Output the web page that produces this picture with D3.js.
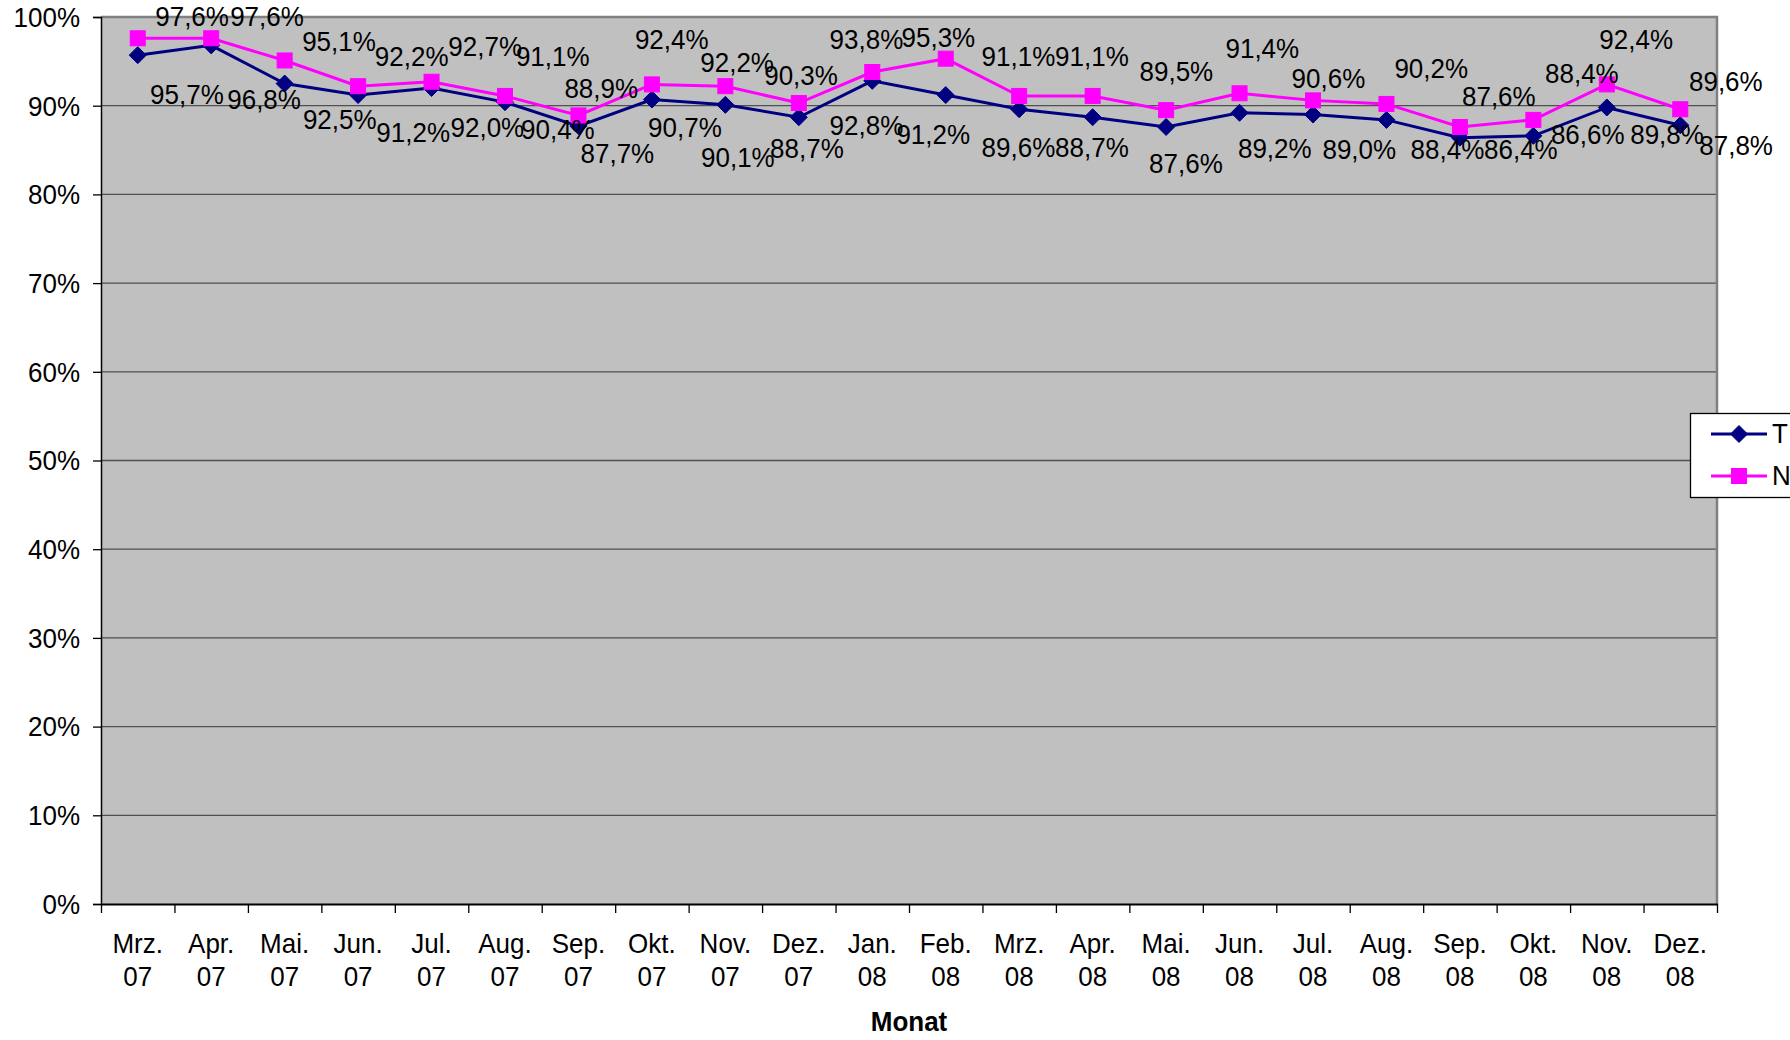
<!DOCTYPE html>
<html>
<head>
<meta charset="utf-8">
<script src="https://cdn.jsdelivr.net/npm/d3@7"></script>
<style>
  html, body { margin: 0; padding: 0; background: #ffffff; }
  svg { display: block; font-family: "Liberation Sans", Arial, Helvetica, sans-serif; }
</style>
</head>
<body>
<svg id="chart" width="1790" height="1040"></svg>
<script>
// ---- data ----
const months = ["Mrz.","Apr.","Mai.","Jun.","Jul.","Aug.","Sep.","Okt.","Nov.","Dez.","Jan.","Feb.",
                "Mrz.","Apr.","Mai.","Jun.","Jul.","Aug.","Sep.","Okt.","Nov.","Dez."];
const years = ["07","07","07","07","07","07","07","07","07","07","08","08",
               "08","08","08","08","08","08","08","08","08","08"];
const seriesNames = ["T", "N"];
const valuesT = [95.7, 96.8, 92.5, 91.2, 92.0, 90.4, 87.7, 90.7, 90.1, 88.7, 92.8, 91.2,
                 89.6, 88.7, 87.6, 89.2, 89.0, 88.4, 86.4, 86.6, 89.8, 87.8];
const valuesN = [97.6, 97.6, 95.1, 92.2, 92.7, 91.1, 88.9, 92.4, 92.2, 90.3, 93.8, 95.3,
                 91.1, 91.1, 89.5, 91.4, 90.6, 90.2, 87.6, 88.4, 92.4, 89.6];
const yTicks = [0, 10, 20, 30, 40, 50, 60, 70, 80, 90, 100];
const xTitle = "Monat";

// data-label anchors (value level, and shift in category widths)
const labelAtT = [91.3, 90.7, 88.4, 87.0, 87.5, 87.3, 84.6, 87.5, 84.1, 85.2, 87.8, 86.7,
                  85.3, 85.3, 83.5, 85.2, 85.1, 85.1, 85.1, 86.7, 86.7, 85.5];
const labelShiftT = [0.67, 0.72, 0.75, 0.75, 0.76, 0.72, 0.53, 0.45, 0.17, 0.11, -0.08, -0.17,
                     -0.01, -0.01, 0.27, 0.48, 0.63, 0.83, 0.83, 0.74, 0.82, 0.76];
const labelAtN = [100.0, 100.0, 97.2, 95.5, 96.6, 95.5, 91.9, 97.4, 94.9, 93.4, 97.4, 97.7,
                  95.5, 95.5, 93.8, 96.4, 93.1, 94.2, 91.0, 93.6, 97.4, 92.7];
const labelShiftN = [0.74, 0.76, 0.74, 0.73, 0.73, 0.65, 0.31, 0.27, 0.16, 0.03, -0.08, -0.10,
                     -0.01, -0.01, 0.14, 0.31, 0.21, 0.61, 0.53, 0.66, 0.40, 0.62];

// ---- layout ----
const svg = d3.select("#chart");
const W = 1790, H = 1040;
const plot = { left: 101, right: 1717, top: 17, bottom: 904 };
const FS = 26, SY = 1.08;
const fmt = v => v.toFixed(1).replace(".", ",") + "%";

const idx = d3.range(months.length);
const x = d3.scaleBand().domain(idx).range([plot.left, plot.right]).padding(0);
const xb = d3.scaleLinear().domain([0, months.length]).range([plot.left, plot.right]);
const y = d3.scaleLinear().domain([0, 100]).range([plot.bottom, plot.top]);
const cx = i => x(i) + x.bandwidth() / 2;

// plot background
svg.append("rect")
  .attr("x", plot.left).attr("y", plot.top)
  .attr("width", plot.right - plot.left).attr("height", plot.bottom - plot.top)
  .attr("fill", "#c0c0c0");

// gridlines
svg.append("g").selectAll("line").data(yTicks.filter(t => t > 0 && t < 100)).join("line")
  .attr("x1", plot.left).attr("x2", plot.right)
  .attr("y1", d => y(d)).attr("y2", d => y(d))
  .attr("stroke", "#505050").attr("stroke-width", 1.3);

// plot border (top/right)
svg.append("path")
  .attr("d", `M${plot.left},${plot.top}H${plot.right}V${plot.bottom}`)
  .attr("fill", "none").attr("stroke", "#808080").attr("stroke-width", 2.5);

// y axis
const yAxis = svg.append("g").attr("transform", `translate(${plot.left},0)`)
  .call(d3.axisLeft(y).tickValues(yTicks).tickFormat(d => d + "%").tickSize(8).tickPadding(13));
yAxis.select(".domain").attr("stroke", "#000").attr("stroke-width", 1.5);
yAxis.selectAll(".tick line").attr("stroke", "#000").attr("stroke-width", 1.3);
yAxis.selectAll(".tick text")
  .attr("font-size", FS).attr("fill", "#000").attr("font-family", null)
  .attr("dy", null).attr("dominant-baseline", "central")
  .attr("transform", `scale(1,${SY})`)
  .attr("y", function() { return 0; });

// x axis (ticks at category boundaries)
const xAxis = svg.append("g").attr("transform", `translate(0,${plot.bottom})`)
  .call(d3.axisBottom(xb).tickValues(d3.range(months.length + 1)).tickFormat("").tickSize(9).tickSizeOuter(0));
xAxis.select(".domain").attr("stroke", "#000").attr("stroke-width", 2);
xAxis.selectAll(".tick line").attr("stroke", "#000").attr("stroke-width", 1.3);

// category labels
const catG = svg.append("g");
idx.forEach(i => {
  const t = catG.append("text")
    .attr("transform", `translate(${cx(i)},0) scale(1,${SY})`)
    .attr("text-anchor", "middle").attr("font-size", FS).attr("fill", "#000");
  t.append("tspan").attr("x", 0).attr("y", 944 / SY).attr("dominant-baseline", "central").text(months[i]);
  t.append("tspan").attr("x", 0).attr("y", 977 / SY).attr("dominant-baseline", "central").text(years[i]);
});

// x title
svg.append("text")
  .attr("transform", `translate(${(plot.left + plot.right) / 2},0) scale(1,${SY})`)
  .attr("x", 0).attr("y", 1022 / SY)
  .attr("text-anchor", "middle").attr("dominant-baseline", "central")
  .attr("font-size", FS).attr("font-weight", "bold").attr("fill", "#000")
  .text(xTitle);

// series
const series = [
  { name: seriesNames[0], values: valuesT, color: "#000080", shape: "diamond", at: labelAtT, shift: labelShiftT },
  { name: seriesNames[1], values: valuesN, color: "#ff00ff", shape: "square", at: labelAtN, shift: labelShiftN }
];

function marker(g, shape, color) {
  if (shape === "square") {
    g.append("rect").attr("x", -7.5).attr("y", -7.5).attr("width", 15).attr("height", 15)
      .attr("fill", color).attr("stroke", color).attr("stroke-width", 1);
  } else {
    g.append("path").attr("d", "M0,-8.5L8.5,0L0,8.5L-8.5,0Z")
      .attr("fill", color).attr("stroke", color).attr("stroke-width", 1);
  }
}

const line = d3.line().x((d, i) => cx(i)).y(d => y(d));

series.forEach(s => {
  const g = svg.append("g");
  g.append("path").datum(s.values).attr("d", line)
    .attr("fill", "none").attr("stroke", s.color).attr("stroke-width", 3);
  s.values.forEach((v, i) => {
    const m = g.append("g").attr("transform", `translate(${cx(i)},${y(v)})`);
    marker(m, s.shape, s.color);
  });
});

// data labels (drawn above markers)
series.forEach(s => {
  const g = svg.append("g");
  s.values.forEach((v, i) => {
    g.append("text")
      .attr("transform", `translate(${cx(i) + s.shift[i] * x.bandwidth()},${y(s.at[i])}) scale(1,${SY})`)
      .attr("text-anchor", "middle").attr("dominant-baseline", "central")
      .attr("font-size", FS).attr("fill", "#000")
      .text(fmt(v));
  });
});

// legend (runs past right edge as in the reference)
const lg = svg.append("g");
lg.append("rect").attr("x", 1690.5).attr("y", 413.5).attr("width", 200).attr("height", 84)
  .attr("fill", "#fff").attr("stroke", "#000").attr("stroke-width", 1.3);
const legendY = [434, 476];
series.forEach((s, k) => {
  const ly = legendY[k];
  lg.append("line").attr("x1", 1711).attr("x2", 1767).attr("y1", ly).attr("y2", ly)
    .attr("stroke", s.color).attr("stroke-width", 3);
  const m = lg.append("g").attr("transform", `translate(1739,${ly})`);
  marker(m, s.shape, s.color);
  lg.append("text")
    .attr("transform", `translate(1772,${ly}) scale(1,${SY})`)
    .attr("dominant-baseline", "central").attr("font-size", FS).attr("fill", "#000")
    .text(s.name);
});
</script>
</body>
</html>
